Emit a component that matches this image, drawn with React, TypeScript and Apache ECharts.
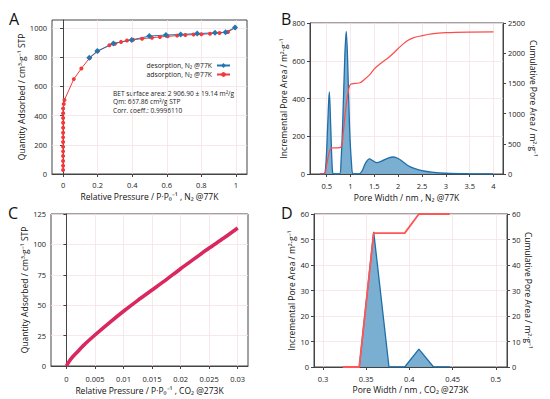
import React, { useEffect, useRef } from "react";
import * as echarts from "echarts";

// ---------- Panel A : N2 isotherm ----------
const adsorptionX = [0.00002, 0.00004, 0.00006, 0.00008, 0.0001, 0.00012, 0.00014, 0.00016, 0.00018, 0.0002, 0.00022, 0.00024, 0.00026, 0.00028, 0.004, 0.008, 0.062, 0.106, 0.154, 0.2, 0.268, 0.3, 0.335, 0.37, 0.405, 0.457, 0.514, 0.56, 0.605, 0.66, 0.707, 0.755, 0.8, 0.85, 0.905, 0.954, 0.995];
const adsorptionY = [27, 57, 89, 123, 155, 187, 219, 251, 283, 317, 351, 384, 416, 448, 479, 507, 650, 723, 795, 841, 882, 893, 905, 914, 920, 927, 934, 939, 943, 948, 952, 955, 957, 961, 966, 973, 1002];
const desorptionX = [0.995, 0.94, 0.879, 0.776, 0.68, 0.595, 0.499, 0.397, 0.291, 0.198, 0.152];
const desorptionY = [1003, 971, 967, 962, 956, 952, 945, 918, 894, 842, 796];
const aXTicks = [0, 0.2, 0.4, 0.6, 0.8, 1];
const aYTicks = [0, 200, 400, 600, 800, 1000];

// ---------- Panel B : N2 pore distribution ----------
const bIncX = [0.36, 0.44, 0.48, 0.52, 0.555, 0.585, 0.62, 0.65, 0.77, 0.8, 0.84, 0.88, 0.91, 0.94, 0.98, 1.02, 1.06, 1.18, 1.25, 1.32, 1.4, 1.47, 1.55, 1.65, 1.8, 1.9, 2.0, 2.1, 2.2, 2.35, 2.5, 2.7, 3.0, 3.5, 4.0];
const bIncY = [0, 0, 40, 250, 435, 250, 20, 0, 0, 60, 300, 620, 755, 600, 250, 60, 0, 0, 20, 60, 80, 70, 60, 68, 85, 90, 82, 65, 45, 28, 18, 10, 4, 1, 0];
const bCumX = [0.36, 0.45, 0.5, 0.55, 0.6, 0.7, 0.8, 0.85, 0.9, 0.95, 1.0, 1.1, 1.2, 1.3, 1.4, 1.5, 1.6, 1.7, 1.8, 1.9, 2.0, 2.1, 2.2, 2.3, 2.5, 2.7, 3.0, 3.5, 4.0];
const bCumY = [0, 0, 150, 350, 430, 432, 445, 700, 1080, 1350, 1485, 1500, 1510, 1570, 1640, 1740, 1810, 1870, 1930, 2000, 2078, 2150, 2210, 2250, 2290, 2320, 2340, 2350, 2352];
const bXTicks = [0.5, 1, 1.5, 2, 2.5, 3, 3.5, 4];
const bLeftTicks = [0, 200, 400, 600, 800];
const bRightTicks = [0, 500, 1000, 1500, 2000, 2500];

// ---------- Panel C : CO2 isotherm ----------
const cX = [0, 0.0005, 0.001, 0.002, 0.003, 0.005, 0.0075, 0.01, 0.0125, 0.015, 0.0175, 0.02, 0.0225, 0.025, 0.0275, 0.03];
const cY = [0, 4, 7, 12, 17, 25.5, 35.5, 45, 54, 62.5, 71, 80, 88.5, 97, 105, 113.5];
const cXTicks = [0, 0.005, 0.01, 0.015, 0.02, 0.025, 0.03];
const cYTicks = [0, 25, 50, 75, 100, 125];

// ---------- Panel D : CO2 pore distribution ----------
const dX = [0.323, 0.342, 0.3587, 0.3764, 0.3946, 0.411, 0.428, 0.4467];
const dInc = [0, 0, 53, 0, 0, 7, 0, 0];
const dCum = [0, 0, 52.5, 52.5, 52.5, 60, 60, 60];
const dXTicks = [0.3, 0.35, 0.4, 0.45, 0.5];
const dYTicks = [0, 10, 20, 30, 40, 50, 60];

const FONT = "Open Sans";
const pair = (xs: number[], ys: number[]) => xs.map((x, i) => [x, ys[i]]);

const GRID_LINE = "#f6e2e6";
const AXIS_COLOR = "#444";

function valueAxis(opts: any) {
  const { gridIndex, min, max, ticks, name, nameGap, position, split, labelMargin, nameRotate } = opts;
  return {
    type: "value",
    gridIndex,
    min,
    max,
    position,
    name,
    nameLocation: "middle",
    nameGap,
    nameRotate,
    nameTextStyle: { fontFamily: FONT, fontSize: 8.5, color: "#111" },
    axisLine: { show: true, lineStyle: { color: AXIS_COLOR, width: 1 } },
    axisTick: { show: true, inside: false, length: 3, lineStyle: { color: AXIS_COLOR }, customValues: ticks },
    axisLabel: {
      customValues: ticks,
      fontFamily: FONT,
      fontSize: 7.5,
      color: "#222",
      margin: labelMargin,
      formatter: (v: number) => String(v),
    },
    splitLine: { show: split !== false, lineStyle: { color: GRID_LINE, width: 0.8 } },
    minorTick: { show: false },
  };
}

export default function App() {
  const ref = useRef<HTMLDivElement>(null);
  useEffect(() => {
    if (!ref.current) return;
    const chart = echarts.init(ref.current, undefined, { renderer: "svg" });
    const gridCommon = { show: true, borderColor: AXIS_COLOR, borderWidth: 1, backgroundColor: "transparent", containLabel: false };
    const option: any = {
      animation: false,
      backgroundColor: "#fff",
      textStyle: { fontFamily: FONT },
      grid: [
        { ...gridCommon, left: 52, top: 20, width: 195, height: 154 },
        { ...gridCommon, left: 310, top: 23, width: 193, height: 151 },
        { ...gridCommon, left: 51, top: 214, width: 197, height: 152 },
        { ...gridCommon, left: 314, top: 214, width: 193, height: 153 },
      ],
      xAxis: [
        valueAxis({ gridIndex: 0, min: -0.064, max: 1.064, ticks: aXTicks, name: "Relative Pressure / P·P₀⁻¹ , N₂ @77K", nameGap: 18, labelMargin: 7 }),
        valueAxis({ gridIndex: 1, min: 0.15, max: 4.2, ticks: bXTicks, name: "Pore Width / nm , N₂ @77K", nameGap: 19, labelMargin: 8 }),
        valueAxis({ gridIndex: 2, min: -0.0027, max: 0.0318, ticks: cXTicks, name: "Relative Pressure / P·P₀⁻¹ , CO₂ @273K", nameGap: 20, labelMargin: 9 }),
        valueAxis({ gridIndex: 3, min: 0.2896, max: 0.513, ticks: dXTicks, name: "Pore Width / nm , CO₂ @273K", nameGap: 18, labelMargin: 8 }),
      ],
      yAxis: [
        valueAxis({ gridIndex: 0, min: 0, max: 1055, ticks: aYTicks, name: "Quantity Adsorbed / cm³·g⁻¹ STP", nameGap: 24, labelMargin: 5 }),
        valueAxis({ gridIndex: 1, min: 0, max: 800, ticks: bLeftTicks, name: "Incremental Pore Area / m²·g⁻¹", nameGap: 19, labelMargin: 5 }),
        valueAxis({ gridIndex: 1, min: 0, max: 2500, ticks: bRightTicks, position: "right", split: false, name: "Cumulative Pore Area / m²·g⁻¹", nameGap: 25, nameRotate: -90, labelMargin: 5 }),
        valueAxis({ gridIndex: 2, min: 0, max: 125, ticks: cYTicks, name: "Quantity Adsorbed / cm³·g⁻¹ STP", nameGap: 21, labelMargin: 5 }),
        valueAxis({ gridIndex: 3, min: 0, max: 60, ticks: dYTicks, name: "Incremental Pore Area / m²·g⁻¹", nameGap: 18, labelMargin: 5 }),
        valueAxis({ gridIndex: 3, min: 0, max: 60, ticks: dYTicks, position: "right", split: false, name: "Cumulative Pore Area / m²·g⁻¹", nameGap: 16, nameRotate: -90, labelMargin: 5 }),
      ],
      legend: {
        right: 314,
        top: 57,
        orient: "vertical",
        align: "right",
        itemWidth: 13,
        itemHeight: 6,
        itemGap: 2,
        textStyle: { fontFamily: FONT, fontSize: 6.8, color: "#222" },
        data: ["desorption, N₂ @77K", "adsorption, N₂ @77K"],
      },
      graphic: [
        { type: "text", left: 9, top: 11, style: { text: "A", fontSize: 16, fontFamily: FONT, fill: "#111" } },
        { type: "text", left: 281, top: 11, style: { text: "B", fontSize: 16, fontFamily: FONT, fill: "#111" } },
        { type: "text", left: 8, top: 205, style: { text: "C", fontSize: 16, fontFamily: FONT, fill: "#111" } },
        { type: "text", left: 281, top: 205, style: { text: "D", fontSize: 16, fontFamily: FONT, fill: "#111" } },
        { type: "text", left: 113, top: 89.5, style: { text: "BET surface area: 2 906.90 ± 19.14 m²/g", fontSize: 6.6, fontFamily: FONT, fill: "#222" } },
        { type: "text", left: 113, top: 98, style: { text: "Qm: 667.86 cm³/g STP", fontSize: 6.6, fontFamily: FONT, fill: "#222" } },
        { type: "text", left: 113, top: 106.5, style: { text: "Corr. coeff.: 0.9996110", fontSize: 6.6, fontFamily: FONT, fill: "#222" } },
      ],
      series: [
        {
          name: "adsorption, N₂ @77K",
          type: "line",
          xAxisIndex: 0,
          yAxisIndex: 0,
          data: pair(adsorptionX, adsorptionY),
          symbol: "circle",
          symbolSize: 4,
          color: "#f23a3c",
          lineStyle: { width: 1, color: "#f23a3c" },
          itemStyle: { color: "#f23a3c" },
        },
        {
          name: "desorption, N₂ @77K",
          type: "line",
          xAxisIndex: 0,
          yAxisIndex: 0,
          data: pair(desorptionX, desorptionY),
          symbol: "diamond",
          symbolSize: 6,
          color: "#2277b0",
          lineStyle: { width: 1, color: "#2277b0" },
          itemStyle: { color: "#2277b0" },
        },
        {
          name: "incB",
          type: "line",
          xAxisIndex: 1,
          yAxisIndex: 1,
          data: pair(bIncX, bIncY),
          smooth: 0.35,
          showSymbol: false,
          lineStyle: { width: 1.3, color: "#1f6ea8" },
          areaStyle: { color: "#74abd0", opacity: 0.95 },
        },
        {
          name: "cumB",
          type: "line",
          xAxisIndex: 1,
          yAxisIndex: 2,
          data: pair(bCumX, bCumY),
          smooth: 0.35,
          showSymbol: false,
          lineStyle: { width: 1.2, color: "#ff4a4a" },
        },
        {
          name: "isoC",
          type: "line",
          xAxisIndex: 2,
          yAxisIndex: 3,
          data: pair(cX, cY),
          smooth: 0.3,
          showSymbol: false,
          lineStyle: { width: 3.6, color: "#d8285f" },
        },
        {
          name: "incD",
          type: "line",
          xAxisIndex: 3,
          yAxisIndex: 4,
          data: pair(dX, dInc),
          showSymbol: false,
          lineStyle: { width: 1.3, color: "#1f6ea8" },
          areaStyle: { color: "#74abd0", opacity: 0.95 },
        },
        {
          name: "cumD",
          type: "line",
          xAxisIndex: 3,
          yAxisIndex: 5,
          data: pair(dX, dCum),
          showSymbol: false,
          lineStyle: { width: 1.8, color: "#ff5555" },
        },
      ],
    };
    chart.setOption(option);
    return () => chart.dispose();
  }, []);
  return <div ref={ref} style={{ position: "absolute", left: 0, top: 0, width: 550, height: 399, background: "#fff" }} />;
}
